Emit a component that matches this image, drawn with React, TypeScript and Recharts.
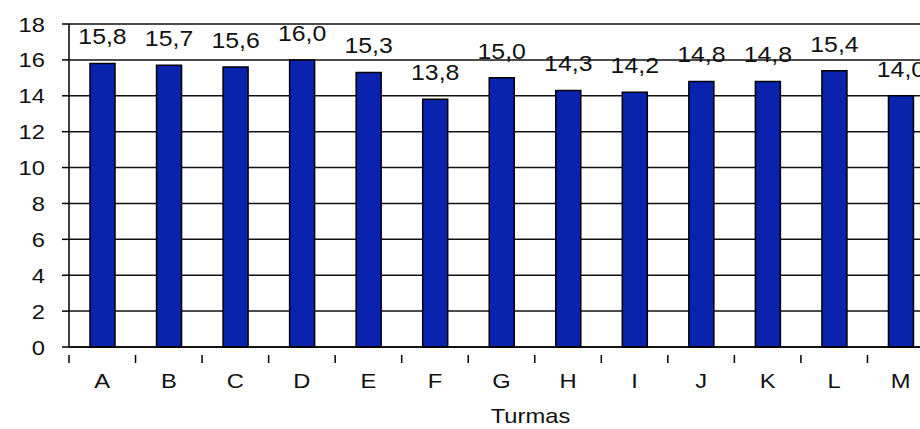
import React from 'react';
import { BarChart, Bar, XAxis, YAxis, CartesianGrid, LabelList } from 'recharts';

const turmas = ['A', 'B', 'C', 'D', 'E', 'F', 'G', 'H', 'I', 'J', 'K', 'L', 'M'];
const medias = [15.8, 15.7, 15.6, 16.0, 15.3, 13.8, 15.0, 14.3, 14.2, 14.8, 14.8, 15.4, 14.0];
const yTicks = [0, 2, 4, 6, 8, 10, 12, 14, 16, 18];
const xTitle = 'Turmas';

const data = turmas.map((t, i) => ({ turma: t, media: medias[i] }));

const FONT = '"Liberation Sans", Arial, sans-serif';
const SX = 1.13;
const CHART_W = 934;
const CHART_H = 429;
const Y_W = 69;
const PLOT_W = CHART_W - Y_W;
const BAND = PLOT_W / turmas.length;

const fmt = (v: number) => v.toFixed(1).replace('.', ',');

const XTick = (props: any) => {
  const { x, y, payload } = props;
  const left = x - BAND / 2;
  return (
    <g>
      <line x1={left} y1={y} x2={left} y2={y + 8} stroke="#000" strokeWidth={1.5} />
      <text
        transform={`translate(${x},${y + 33}) scale(${SX},1)`}
        textAnchor="middle"
        fontFamily={FONT}
        fontSize={21}
        fill="#111"
      >
        {payload.value}
      </text>
    </g>
  );
};

const YTick = (props: any) => {
  const { x, y, payload } = props;
  return (
    <text
      transform={`translate(${x - 17},${y + 7.5}) scale(${SX},1)`}
      textAnchor="end"
      fontFamily={FONT}
      fontSize={21}
      fill="#111"
    >
      {payload.value}
    </text>
  );
};

const BarLabel = (props: any) => {
  const { x, y, width, value } = props;
  return (
    <text
      transform={`translate(${x + width / 2},${y - 19}) scale(${SX},1)`}
      textAnchor="middle"
      fontFamily={FONT}
      fontSize={22}
      fill="#111"
    >
      {fmt(Number(value))}
    </text>
  );
};

const TitleLabel = (props: any) => {
  const vb = props.viewBox || {};
  const cx = vb.x + vb.width / 2 + 29;
  return (
    <text
      transform={`translate(${cx},${423}) scale(${SX},1)`}
      textAnchor="middle"
      fontFamily={FONT}
      fontSize={21}
      fill="#111"
    >
      {xTitle}
    </text>
  );
};

export default function App() {
  return (
    <div style={{ position: 'absolute', left: 0, top: 0, width: 920, height: 429, overflow: 'hidden', background: '#fff' }}>
      <BarChart
        width={CHART_W}
        height={CHART_H}
        data={data}
        margin={{ top: 24, right: 0, bottom: 0, left: 0 }}
        barSize={25}
      >
        <CartesianGrid horizontal vertical={false} stroke="#111" strokeWidth={1.5} />
        <XAxis
          dataKey="turma"
          height={82}
          axisLine={{ stroke: '#000', strokeWidth: 1.5 }}
          tickLine={false}
          tick={<XTick />}
          interval={0}
          label={<TitleLabel />}
        />
        <YAxis
          width={Y_W}
          domain={[0, 18]}
          ticks={yTicks}
          interval={0}
          axisLine={{ stroke: '#000', strokeWidth: 1.5 }}
          tickLine={{ stroke: '#000', strokeWidth: 1.5 }}
          tickSize={7}
          tickMargin={0}
          tick={<YTick />}
        />
        <Bar dataKey="media" fill="#0A23AE" stroke="#000" strokeWidth={1.5} isAnimationActive={false}>
          <LabelList dataKey="media" content={<BarLabel />} />
        </Bar>
      </BarChart>
    </div>
  );
}
